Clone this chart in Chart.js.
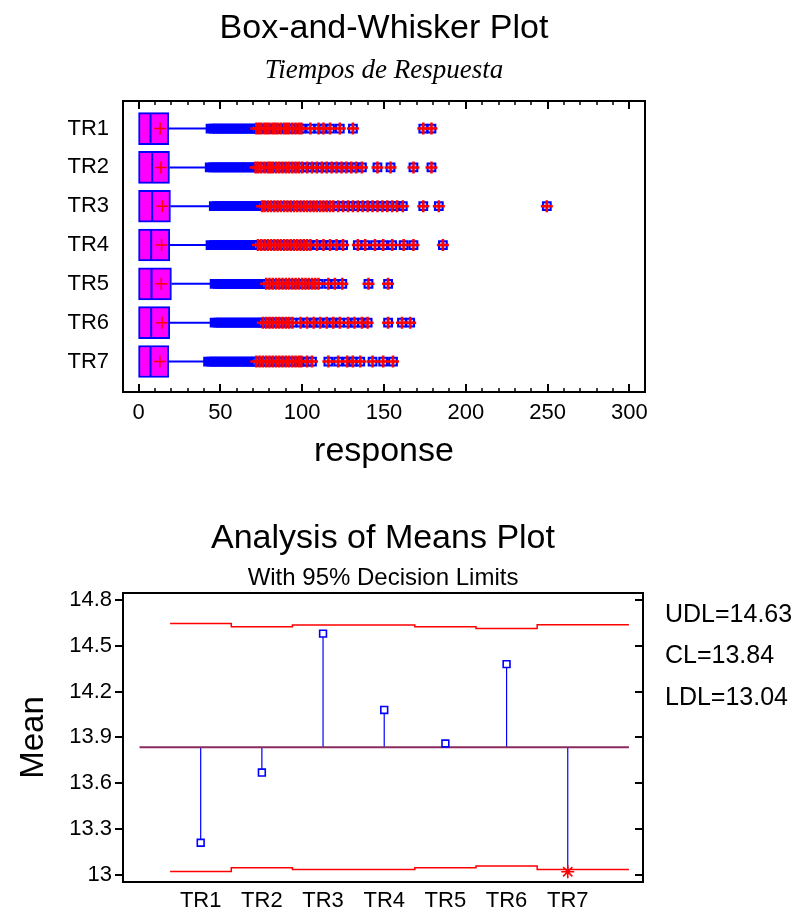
<!DOCTYPE html>
<html>
<head>
<meta charset="utf-8">
<script src="https://cdn.jsdelivr.net/npm/chart.js@4.4.0/dist/chart.umd.min.js"></script>
<style>
  body { margin: 0; background: #fff; }
  canvas { display: block; }
</style>
</head>
<body>
<canvas id="boxChart" width="800" height="480"></canvas>
<canvas id="meansChart" width="800" height="432"></canvas>
<script>
// values
const groups = ['TR1', 'TR2', 'TR3', 'TR4', 'TR5', 'TR6', 'TR7'];
const q1 = [0, 0, 0, 0, 0, 0, 0];
const medians = [7.3, 8.3, 8.3, 7.7, 7.9, 7.7, 7.3];
const q3 = [18.5, 18.9, 19.5, 19.1, 20.1, 19.1, 18.5];
const whiskerHi = [43.5, 43.3, 45.8, 44, 47, 47, 42.7];
const means = [13.21, 13.67, 14.58, 14.08, 13.86, 14.38, 13.02];

// outside points (blue squares) and far outside points (squares with red plus)
const nearOut = [
  [44, 46, 48, 50, 52, 54, 56, 58, 60, 62, 64, 66, 68, 70],
  [43.5, 45.5, 47.5, 49.5, 51.5, 53.5, 55.5, 57.5, 59.5, 61.5, 63.5, 65.5, 67.5, 69.5],
  [46, 48, 50, 52, 54, 56, 58, 60, 62, 64, 66, 68, 70, 72, 74],
  [44, 46, 48, 50, 52, 54, 56, 58, 60, 62, 64, 66, 68, 70, 72],
  [46.5, 48.5, 50.5, 52.5, 54.5, 56.5, 58.5, 60.5, 62.5, 64.5, 66.5, 68.5, 70.5, 72.5, 74.5, 76.5],
  [46.5, 48.5, 50.5, 52.5, 54.5, 56.5, 58.5, 60.5, 62.5, 64.5, 66.5, 68.5, 70.5, 72.5, 74.5],
  [42.5, 44.5, 46.5, 48.5, 50.5, 52.5, 54.5, 56.5, 58.5, 60.5, 62.5, 64.5, 66.5, 68.5, 70.5]
];
const farOut = [
  [72, 73.5, 75, 77, 78.5, 80, 82, 83.5, 85, 87, 89, 90.5, 92, 94, 96, 98, 99.5, 105, 110, 113, 117, 123, 131, 174, 179],
  [71.5, 73, 75, 77, 79, 80.5, 82, 84, 86, 88, 90, 92, 94, 96, 98, 100, 103, 106, 109, 112, 115, 118, 121, 124, 127, 130, 133, 136.5, 146, 154, 168, 179],
  [75.5, 77, 79, 81, 83, 85, 87, 89, 91, 93, 95, 97, 99, 101, 103, 105, 107, 109, 111, 113, 115, 117, 119, 122, 125, 128, 131, 134, 137, 140, 143, 146, 149, 152, 155, 158, 161.5, 174, 183.5, 249.5],
  [73, 75, 77, 79, 81, 83, 85, 87, 89, 91, 93, 95, 97, 99, 101, 103, 105, 109, 113, 117, 121, 125, 134, 138.5, 144.5, 149.5, 155, 162, 168, 186],
  [78, 80, 82, 84, 86, 88, 90, 92, 94, 96, 98, 100, 102, 104, 106, 108, 110, 116, 120, 124.5, 140.5, 152.5],
  [76, 78, 80, 82, 84, 86, 88, 90, 92, 94, 99, 103, 107, 111, 115, 119, 123, 128, 132, 136.5, 140, 152.5, 161, 166],
  [72, 74, 76, 78, 80, 82, 84, 86, 88, 90, 92, 94, 96, 98, 99.5, 103, 106, 116, 122, 127.5, 131, 135.5, 143, 149.5, 155.5]
];
const responseTicks = [0, 50, 100, 150, 200, 250, 300];

// analysis of means
const udl = [14.647, 14.625, 14.636, 14.636, 14.625, 14.613, 14.638];
const ldl = [13.022, 13.046, 13.035, 13.035, 13.046, 13.057, 13.035];
const centerLine = 13.836;
const meanTicks = [13, 13.3, 13.6, 13.9, 14.2, 14.5, 14.8];
const limitLabels = ['UDL=14.63', 'CL=13.84', 'LDL=13.04'];

const SANS = '"Liberation Sans", Arial, sans-serif';
const BLUE = '#0000ff';
const RED = '#ff0000';

const pts = (arr) => arr.flatMap((vals, i) => vals.map(v => ({ x: v, y: i + 1 })));

const boxDecor = {
  id: 'boxDecor',
  afterDraw(chart) {
    const { ctx, chartArea: a, scales: { x } } = chart;
    ctx.save();
    ctx.strokeStyle = '#000';
    ctx.lineWidth = 2;
    ctx.beginPath();
    responseTicks.forEach(v => {
      const px = Math.round(x.getPixelForValue(v));
      ctx.moveTo(px, a.bottom); ctx.lineTo(px, a.bottom - 8);
      ctx.moveTo(px, a.top); ctx.lineTo(px, a.top + 8);
    });
    ctx.stroke();
    ctx.lineWidth = 1.5;
    ctx.beginPath();
    for (let v = 10; v < 300; v += 10) {
      if (v % 50 === 0) continue;
      const px = Math.round(x.getPixelForValue(v));
      ctx.moveTo(px, a.bottom); ctx.lineTo(px, a.bottom - 4);
      ctx.moveTo(px, a.top); ctx.lineTo(px, a.top + 4);
    }
    ctx.stroke();
    ctx.lineWidth = 2;
    ctx.strokeRect(a.left, a.top, a.right - a.left, a.bottom - a.top);

    const cx = (a.left + a.right) / 2;
    ctx.fillStyle = '#000';
    ctx.textAlign = 'center';
    ctx.textBaseline = 'middle';
    ctx.font = '34px ' + SANS;
    ctx.fillText('Box-and-Whisker Plot', cx, 29);
    ctx.font = 'italic 27px "Liberation Serif", "Times New Roman", serif';
    ctx.fillText('Tiempos de Respuesta', cx, 71);
    ctx.font = '34px ' + SANS;
    ctx.fillText('response', cx, 452);
    ctx.restore();
  }
};

new Chart(document.getElementById('boxChart'), {
  type: 'scatter',
  data: {
    datasets: [
      {
        type: 'scatter',
        showLine: true,
        data: groups.flatMap((g, i) => [{ x: q3[i], y: i + 1 }, { x: whiskerHi[i], y: i + 1 }, { x: null, y: null }]),
        spanGaps: false,
        borderColor: BLUE,
        borderWidth: 2,
        pointRadius: 0,
        order: 6
      },
      {
        type: 'bar',
        indexAxis: 'y',
        data: groups.map((g, i) => ({ x: [q1[i], q3[i]], y: i + 1 })),
        backgroundColor: '#ff00ff',
        borderColor: BLUE,
        borderWidth: 2,
        borderSkipped: false,
        barThickness: 32,
        order: 5
      },
      {
        data: groups.map((g, i) => ({ x: medians[i], y: i + 1 })),
        pointStyle: 'line',
        rotation: 90,
        pointRadius: 15,
        borderColor: BLUE,
        borderWidth: 2,
        order: 4
      },
      {
        data: pts(nearOut),
        pointStyle: 'rect',
        pointRadius: 5.5,
        borderColor: BLUE,
        borderWidth: 2,
        backgroundColor: BLUE,
        order: 3
      },
      {
        data: pts(farOut),
        pointStyle: 'rect',
        pointRadius: 5.5,
        borderColor: BLUE,
        borderWidth: 2,
        backgroundColor: 'rgba(150,150,255,0.6)',
        order: 2
      },
      {
        data: pts(farOut),
        pointStyle: 'cross',
        pointRadius: 6,
        borderColor: RED,
        borderWidth: 2.5,
        order: 1
      },
      {
        data: groups.map((g, i) => ({ x: means[i], y: i + 1 })),
        pointStyle: 'cross',
        pointRadius: 6,
        borderColor: RED,
        borderWidth: 1.5,
        order: 0
      }
    ]
  },
  options: {
    responsive: false,
    devicePixelRatio: 1,
    animation: false,
    events: [],
    layout: { padding: { top: 101, right: 155, bottom: 0, left: 0 } },
    plugins: { legend: { display: false }, tooltip: { enabled: false } },
    scales: {
      x: {
        type: 'linear',
        min: -9.5,
        max: 309.5,
        beginAtZero: false,
        offset: false,
        afterBuildTicks: s => { s.ticks = responseTicks.map(v => ({ value: v })); },
        afterFit: s => { s.height = 88; },
        grid: { display: false, offset: false },
        border: { display: false },
        ticks: { color: '#000', font: { family: SANS, size: 22 }, padding: 0, maxRotation: 0 }
      },
      y: {
        type: 'linear',
        reverse: true,
        min: 0.29,
        max: 7.785,
        offset: false,
        afterBuildTicks: s => { s.ticks = groups.map((g, i) => ({ value: i + 1 })); },
        afterFit: s => { s.width = 123; },
        grid: { display: false, offset: false },
        border: { display: false },
        ticks: { color: '#000', font: { family: SANS, size: 22 }, padding: 6, callback: v => groups[v - 1] }
      }
    }
  },
  plugins: [boxDecor]
});

// analysis of means plot
const meansDecor = {
  id: 'meansDecor',
  afterDraw(chart) {
    const { ctx, chartArea: a, scales: { y } } = chart;
    ctx.save();
    ctx.strokeStyle = '#000';
    ctx.lineWidth = 2;
    ctx.beginPath();
    meanTicks.forEach(v => {
      const py = Math.round(y.getPixelForValue(v));
      ctx.moveTo(a.right, py); ctx.lineTo(a.right - 8, py);
    });
    ctx.stroke();
    ctx.strokeRect(a.left, a.top, a.right - a.left, a.bottom - a.top);

    const cx = (a.left + a.right) / 2;
    ctx.fillStyle = '#000';
    ctx.textAlign = 'center';
    ctx.textBaseline = 'middle';
    ctx.font = '34px ' + SANS;
    ctx.fillText('Analysis of Means Plot', cx, 59);
    ctx.font = '24px ' + SANS;
    ctx.fillText('With 95% Decision Limits', cx, 98);

    ctx.textAlign = 'left';
    ctx.font = '25px ' + SANS;
    limitLabels.forEach((t, k) => ctx.fillText(t, 665, 135 + k * 41.5));

    ctx.save();
    ctx.translate(34, (a.top + a.bottom) / 2);
    ctx.rotate(-Math.PI / 2);
    ctx.textAlign = 'center';
    ctx.font = '33px ' + SANS;
    ctx.fillText('Mean', 0, 0);
    ctx.restore();
    ctx.restore();
  }
};

const stepX = groups.map((g, i) => i + 0.5).concat(groups.length + 1);
const stepLine = (lim) => stepX.map((x, k) => ({ x, y: lim[Math.min(k, lim.length - 1)] }));
const outside = (i) => means[i] < ldl[i] || means[i] > udl[i];

new Chart(document.getElementById('meansChart'), {
  type: 'scatter',
  data: {
    datasets: [
      {
        data: stepLine(udl),
        showLine: true,
        stepped: true,
        borderColor: RED,
        borderWidth: 1.5,
        pointRadius: 0,
        order: 5
      },
      {
        data: stepLine(ldl),
        showLine: true,
        stepped: true,
        borderColor: RED,
        borderWidth: 1.5,
        pointRadius: 0,
        order: 5
      },
      ...groups.map((g, i) => ({
        data: [{ x: i + 1, y: centerLine }, { x: i + 1, y: means[i] }],
        showLine: true,
        borderColor: BLUE,
        borderWidth: 1.2,
        pointRadius: 0,
        order: 3
      })),
      {
        data: [{ x: 0, y: centerLine }, { x: groups.length + 1, y: centerLine }],
        showLine: true,
        borderColor: '#8a2a5e',
        borderWidth: 2,
        pointRadius: 0,
        order: 2
      },
      {
        data: groups.map((g, i) => ({ x: i + 1, y: means[i] })),
        pointStyle: c => outside(c.dataIndex) ? 'star' : 'rect',
        pointRadius: c => outside(c.dataIndex) ? 6.5 : 4.8,
        borderColor: c => outside(c.dataIndex) ? RED : BLUE,
        backgroundColor: '#fff',
        borderWidth: 1.6,
        order: 0
      }
    ]
  },
  options: {
    responsive: false,
    devicePixelRatio: 1,
    animation: false,
    events: [],
    layout: { padding: { top: 113, right: 157, bottom: 0, left: 0 } },
    plugins: { legend: { display: false }, tooltip: { enabled: false } },
    scales: {
      x: {
        type: 'linear',
        min: -0.27,
        max: 8.23,
        afterBuildTicks: s => { s.ticks = groups.map((g, i) => ({ value: i + 1 })); },
        afterFit: s => { s.height = 30; },
        grid: { display: false },
        border: { display: false },
        ticks: { color: '#000', font: { family: SANS, size: 22 }, padding: -2, maxRotation: 0, callback: v => groups[v - 1] }
      },
      y: {
        type: 'linear',
        min: 12.953,
        max: 14.846,
        afterBuildTicks: s => { s.ticks = meanTicks.map(v => ({ value: v })); },
        afterFit: s => { s.width = 123; },
        grid: { drawOnChartArea: false, drawTicks: true, tickLength: 8, color: '#000', lineWidth: 2 },
        border: { display: true, color: '#000', width: 2 },
        ticks: { color: '#000', font: { family: SANS, size: 22 }, padding: 3, callback: v => String(v) }
      }
    }
  },
  plugins: [meansDecor]
});
</script>
</body>
</html>
